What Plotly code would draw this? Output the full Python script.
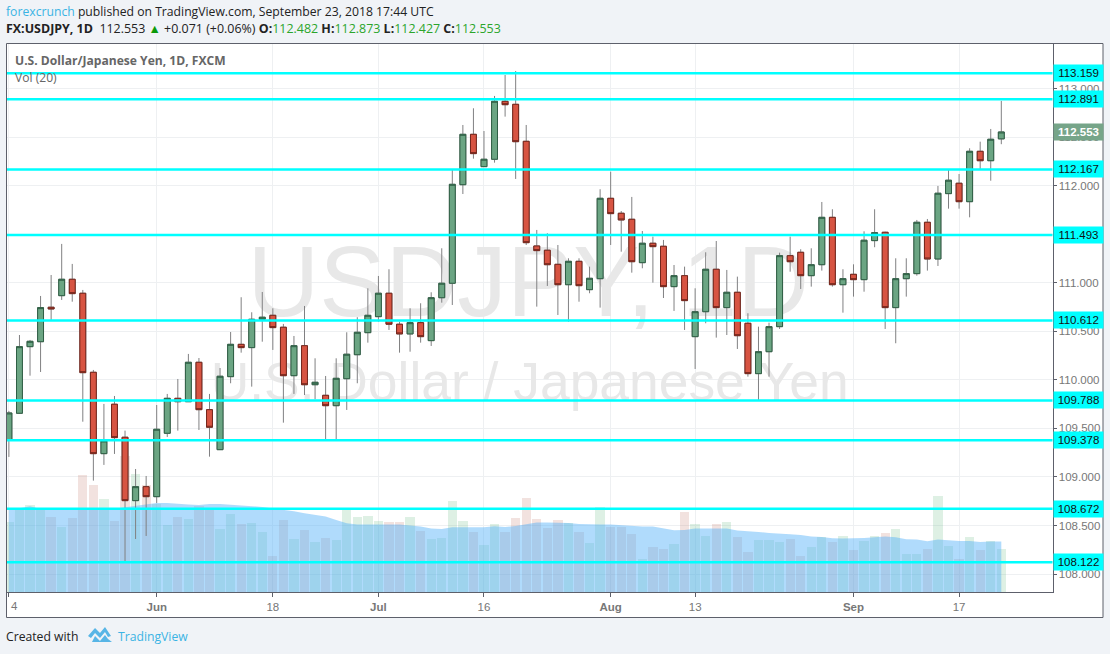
import plotly.graph_objects as go

W, H = 1110, 654

opens = [109.381,109.656,110.342,110.393,110.748,110.867,111.036,110.892,110.078,109.240,
109.749,109.409,108.756,108.900,108.797,109.450,109.810,109.775,110.181,109.693,
109.281,110.033,110.366,110.332,110.624,110.665,110.542,110.043,110.352,109.950,
109.841,109.734,110.012,110.259,110.486,110.651,110.892,110.573,110.473,110.589,
110.404,110.846,110.995,112.010,112.529,112.196,112.272,112.869,112.838,112.457,
111.379,111.335,111.190,110.980,111.221,110.929,111.042,111.870,111.716,111.654,
111.207,111.407,111.376,110.960,111.073,110.445,110.702,111.139,110.744,110.902,
110.583,110.064,110.290,110.548,111.279,111.314,111.073,111.186,111.674,110.980,
111.087,111.032,111.434,111.520,110.744,111.042,111.094,111.623,111.245,111.918,
112.025,111.835,112.354,112.257,112.482]
closes = [109.659,110.342,110.397,110.744,110.730,111.036,110.888,110.074,109.240,109.371,
109.405,108.756,108.900,108.797,109.491,109.810,109.775,110.181,109.693,109.512,
110.037,110.366,110.332,110.624,110.645,110.538,110.043,110.352,109.950,109.975,
109.734,110.016,110.264,110.490,110.665,110.892,110.573,110.473,110.589,110.445,
110.846,110.995,112.014,112.529,112.330,112.272,112.869,112.834,112.453,111.413,
111.331,111.186,110.980,111.221,110.970,111.046,111.870,111.712,111.647,111.217,
111.407,111.372,110.960,111.073,110.816,110.702,111.139,110.744,110.902,110.455,
110.064,110.290,110.548,111.279,111.217,111.073,111.186,111.674,110.980,111.042,
111.032,111.438,111.516,110.744,111.042,111.094,111.623,111.245,111.922,112.056,
111.835,112.354,112.257,112.478,112.553]
highs = [109.680,110.462,110.411,110.864,111.080,111.400,111.194,110.926,110.102,109.752,
109.834,109.477,109.082,109.010,109.741,109.855,110.009,110.267,110.225,109.855,
110.122,110.493,110.851,110.696,110.905,110.737,110.576,110.452,110.761,110.222,
110.040,110.222,110.490,110.645,110.943,111.070,111.139,110.599,110.737,110.789,
110.902,111.355,112.162,112.625,112.797,112.563,112.924,113.140,113.181,112.625,
111.544,111.510,111.389,111.252,111.252,111.166,111.963,112.144,111.739,111.884,
111.533,111.475,111.441,111.183,111.166,110.943,111.314,111.430,111.132,111.063,
110.686,110.548,110.589,111.310,111.475,111.345,111.355,111.832,111.757,111.139,
111.190,111.530,111.757,111.526,111.252,111.252,111.647,111.657,111.997,112.162,
112.120,112.385,112.453,112.584,112.873]
lows = [109.206,109.649,110.043,110.081,110.617,110.823,110.805,109.569,108.962,109.124,
109.237,108.128,108.361,108.392,108.732,109.412,109.477,109.772,109.484,109.209,
109.278,109.965,110.280,109.930,110.393,110.308,109.559,109.855,109.844,109.800,
109.381,109.381,109.690,109.965,110.383,110.599,110.514,110.280,110.290,110.383,
110.349,110.795,110.771,111.914,112.278,112.196,112.237,112.711,112.069,111.389,
110.754,110.967,110.668,110.599,110.805,110.892,110.744,111.389,111.320,111.104,
111.149,111.001,110.843,110.710,110.514,110.112,110.583,110.435,110.462,110.318,
110.033,109.793,110.033,110.524,111.114,110.936,110.960,111.125,110.960,110.692,
110.857,110.908,111.366,110.524,110.377,110.857,111.073,111.125,111.173,111.763,
111.763,111.674,112.172,112.051,112.427]
volumes = [70.7,83.4,87.4,83.4,75.7,65.7,74.4,117.7,107.7,93.4,71.7,136.7,118.4,107.7,88.4,67.7,
75.7,73.4,86.0,83.4,63.4,78.4,68.4,69.4,60.4,36.7,72.4,53.4,62.4,50.4,54.4,52.4,82.4,75.7,76.7,
71.7,70.7,70.7,75.7,61.7,53.4,54.4,91.7,71.7,60.7,47.7,68.4,60.7,74.7,94.7,73.7,64.4,72.7,69.0,
60.7,49.4,85.4,65.0,65.7,58.7,33.7,45.7,43.7,48.4,80.4,68.7,56.7,68.7,70.7,55.7,40.7,52.7,52.7,
50.7,53.7,36.7,45.7,55.7,50.7,56.7,42.7,51.7,56.7,59.7,63.7,38.7,38.7,43.7,96.7,46.7,33.7,55.7,
42.7,51.7,43.7]
volume_ma = [83.4,84.0,86.0,83.4,82.7,82.7,82.7,82.7,82.7,82.7,83.4,85.0,86.4,87.7,89.4,89.4,88.4,
87.7,87.4,88.4,88.4,87.7,86.7,86.4,85.4,83.7,82.7,81.0,79.0,77.0,75.7,72.4,69.0,67.7,67.7,67.7,
67.7,67.7,66.7,65.7,63.7,63.4,65.0,65.0,64.4,65.0,66.0,65.4,66.4,68.4,69.7,69.7,69.7,69.4,68.4,
67.7,67.7,67.7,67.0,66.4,65.7,65.7,64.0,62.0,62.4,63.7,63.7,63.7,63.7,61.7,61.4,60.4,59.4,58.4,
58.0,57.4,55.7,55.4,54.0,53.7,53.7,54.4,55.0,55.7,55.0,53.0,52.7,51.0,52.7,51.7,51.4,51.4,50.4,
50.7,50.7]

bar_index = list(range(len(opens)))
tick_index = [0, 14, 25, 35, 45, 57, 65, 80, 90]
tick_labels = [" ", "<b>Jun</b>", "18", "<b>Jul</b>", "16", "<b>Aug</b>", "13", "<b>Sep</b>", "17"]
price_ticks = [108.0, 108.5, 109.0, 109.5, 110.0, 110.5, 111.0, 111.5, 112.0, 112.5, 113.0]
levels = [113.159, 112.891, 112.167, 111.493, 110.612, 109.788, 109.378, 108.672, 108.122]
last_price = 112.553

UP, UP_B = "#6BA583", "#2f5f45"
DN, DN_B = "#D75442", "#74261c"
WICK = "#808082"
CYAN = "#00FFFF"
FONT = "Liberation Sans, Arial, sans-serif"
HEAD = "Open Sans, sans-serif"

def px(x): return x / W
def py(y): return 1 - y / H

X0, X1, Y0, Y1 = 7, 1052.5, 44, 592.3
bar_colors = ["rgba(107,185,131,0.22)" if c >= o else "rgba(190,110,95,0.20)" for o, c in zip(opens, closes)]
body_high = [max(o, c) for o, c in zip(opens, closes)]
body_low = [min(o, c) for o, c in zip(opens, closes)]

fig = go.Figure()
fig.add_trace(go.Scatter(x=[49.2, 49.33], y=[301, 206], mode="text",
    text=["USDJPY, 1D", "U.S. Dollar / Japanese Yen"], textposition="middle center",
    textfont=dict(family=FONT, size=[99.4, 53.4], color="#e8e8e8"), hoverinfo="skip", yaxis="y"))
fig.add_trace(go.Bar(x=bar_index, y=volumes, width=0.88, marker=dict(color=bar_colors, line_width=0), yaxis="y"))
fig.add_trace(go.Scatter(x=bar_index, y=volume_ma, mode="lines", line=dict(width=0, color="rgba(79,175,248,0)"),
    fill="tozeroy", fillcolor="rgba(79,175,248,0.45)", yaxis="y"))
fig.add_trace(go.Candlestick(x=bar_index, open=opens, high=highs, low=lows, close=closes, yaxis="y2",
    increasing=dict(line=dict(color=WICK, width=1), fillcolor=UP),
    decreasing=dict(line=dict(color=WICK, width=1), fillcolor=DN), whiskerwidth=0))
fig.add_trace(go.Candlestick(x=bar_index, open=opens, high=body_high, low=body_low, close=closes, yaxis="y2",
    increasing=dict(line=dict(color=UP_B, width=1), fillcolor=UP),
    decreasing=dict(line=dict(color=DN_B, width=1), fillcolor=DN), whiskerwidth=0))

shapes = [
    dict(type="rect", xref="paper", yref="paper", x0=px(6.5), x1=px(1103), y0=py(43.5), y1=py(617.5),
         fillcolor="white", line=dict(color="#5d606b", width=1), layer="below"),
    dict(type="path", xref="paper", yref="paper", layer="above", fillcolor="#57b5e6", line_width=0,
         path=" ".join(f"{c}{px(a):.5f},{py(b):.5f}" for c, a, b in [
             ("M", 88, 636), ("L", 95, 628), ("L", 100, 633), ("L", 105, 627), ("L", 111, 636),
             ("L", 108, 637), ("L", 105, 632), ("L", 100, 638), ("L", 95, 633), ("L", 91, 638)]) + " Z"),
    dict(type="path", xref="paper", yref="paper", layer="above", fillcolor="#57b5e6", line_width=0,
         path=" ".join(f"{c}{px(a):.5f},{py(b):.5f}" for c, a, b in [
             ("M", 92, 642), ("L", 95, 636), ("L", 100, 641), ("L", 105, 635), ("L", 108, 639), ("L", 112, 642)]) + " Z"),
]
for lv in levels:
    shapes.append(dict(type="line", xref="paper", yref="y2", x0=px(X0), x1=px(X1), y0=lv, y1=lv,
                       line=dict(color=CYAN, width=2.5), layer="above"))

def ann(x, y, text, size, color, family=HEAD, **kw):
    return dict(xref="paper", yref="paper", x=px(x), y=py(y), text=text, showarrow=False, xanchor="left",
                yanchor="middle", font=dict(family=family, size=size, color=color), **kw)

G = "#2ba52b"
annotations = [
    ann(4, 11, "<span style='color:#3bb3e4'>forexcrunch</span> published on TradingView.com, September 23, 2018 17:44 UTC", 12.2, "#222"),
    ann(4, 29, f"<b>FX:USDJPY, 1D</b>  112.553 <span style='color:#0a9a0a'>▲</span> +0.071 (+0.06%) <b>O:</b><span style='color:{G}'>112.482</span> <b>H:</b><span style='color:{G}'>112.873</span> <b>L:</b><span style='color:{G}'>112.427</span> <b>C:</b><span style='color:{G}'>112.553</span>", 12.45, "#222"),
    ann(13, 60, "<b>U.S. Dollar/Japanese Yen, 1D, FXCM</b>", 12.1, "#666"),
    ann(13, 78, "Vol (20)", 12.1, "#666"),
    ann(4, 636, "Created with", 12.2, "#222"),
    ann(116, 636, "TradingView", 12.2, "#3bb3e4"),
    ann(8.5, 606, "4", 11.5, "#777", family=FONT),
]
for lv in levels:
    annotations.append(dict(xref="paper", yref="y2", x=px(1052.5), y=lv, text=f"{lv:.3f}", showarrow=False, xanchor="left",
                            yanchor="middle", width=49, height=16, align="center", bgcolor=CYAN, borderpad=0,
                            font=dict(family=FONT, size=11.5, color="#111")))
annotations.append(dict(xref="paper", yref="y2", x=px(1052.5), y=last_price, text=f"<b>{last_price:.3f}</b>", showarrow=False,
                        xanchor="left", yanchor="middle", width=49, height=16, align="center", bgcolor="#76a589", borderpad=0,
                        font=dict(family=FONT, size=11.5, color="white")))

fig.update_layout(
    width=W, height=H, margin=dict(l=0, r=0, t=0, b=0), paper_bgcolor="#f0f3f7", plot_bgcolor="rgba(0,0,0,0)",
    showlegend=False, boxgap=0.2, bargap=0, shapes=shapes, annotations=annotations, hovermode=False,
    xaxis=dict(domain=[px(X0), px(X1)], range=[-0.18, 98.85], tickmode="array", tickvals=tick_index, ticktext=tick_labels,
               showgrid=True, gridcolor="#eef0f2", gridwidth=1, zeroline=False, showline=True, linecolor="#5d606b", linewidth=1,
               ticks="outside", ticklen=4, tickcolor="#5d606b", tickfont=dict(family=FONT, size=11.5, color="#777"),
               rangeslider=dict(visible=False), fixedrange=True),
    yaxis=dict(domain=[py(Y1), py(Y0)], range=[0, 548.3], visible=False, fixedrange=True),
    yaxis2=dict(domain=[py(Y1), py(Y0)], overlaying="y", side="right", anchor="x", range=[107.812, 113.459],
                tickmode="array", tickvals=price_ticks, tickformat=".3f", showgrid=True, gridcolor="#eef0f2", gridwidth=1,
                zeroline=False, showline=True, linecolor="#5d606b", linewidth=1, ticks="outside", ticklen=3, tickcolor="#5d606b",
                tickfont=dict(family=FONT, size=11.5, color="#777"), fixedrange=True),
)
fig.write_html("out.html", config={"displayModeBar": False}, post_script="document.body.style.margin='0';document.body.style.overflow='hidden';")
